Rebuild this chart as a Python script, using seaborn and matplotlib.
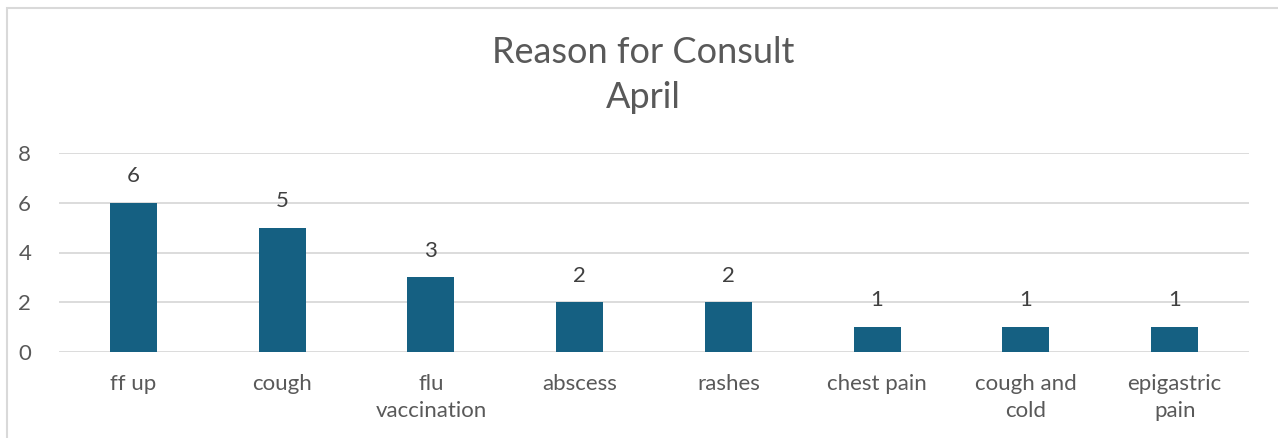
import matplotlib
matplotlib.use("Agg")
import matplotlib.pyplot as plt
import seaborn as sns
import pandas as pd
from matplotlib.patches import Rectangle

# data
reasons = ["ff up", "cough", "flu\nvaccination", "abscess", "rashes",
           "chest pain", "cough and\ncold", "epigastric\npain"]
counts = [6, 5, 3, 2, 2, 1, 1, 1]
yticks = [0, 2, 4, 6, 8]

bar_color = "#156082"
text_color = "#595959"
grid_color = "#d9d9d9"

sns.set_theme(style="white")
plt.rcParams['font.family'] = ['Lato', 'DejaVu Sans']

df = pd.DataFrame({"reason": reasons, "count": counts})

fig = plt.figure(figsize=(12.78, 4.38), dpi=100)
ax = fig.add_axes([59 / 1278, 86 / 438, 1190 / 1278, 199 / 438])

sns.barplot(data=df, x="reason", y="count", color=bar_color, width=0.315,
            saturation=1, linewidth=0, ax=ax, zorder=3)

ax.set_ylim(0, 8)
ax.set_yticks(yticks)
ax.yaxis.grid(True, color=grid_color, linewidth=1.3, zorder=0)
ax.set_axisbelow(True)
for s in ax.spines.values():
    s.set_visible(False)
ax.tick_params(axis="y", length=0, pad=20, labelsize=16, labelcolor=text_color)
ax.tick_params(axis="x", length=0, pad=16, labelsize=16, labelcolor=text_color)
for lbl in ax.get_xticklabels():
    lbl.set_linespacing(1.4)
ax.set_xlabel("")
ax.set_ylabel("")

for c in ax.containers:
    ax.bar_label(c, padding=12, fontsize=16, color="#404040")

fig.text(643 / 1278, 1 - 75 / 438, "Reason for Consult\nApril", ha="center",
         va="center", fontsize=26, color=text_color, linespacing=1.45)

# outer chart border
fig.patches.append(Rectangle((7 / 1278, -0.1), 1.2, 1 - 8 / 438 + 0.1,
                             transform=fig.transFigure, fill=False,
                             edgecolor="#d9d9d9", linewidth=1.5))

fig.savefig("out.png", dpi=100)
